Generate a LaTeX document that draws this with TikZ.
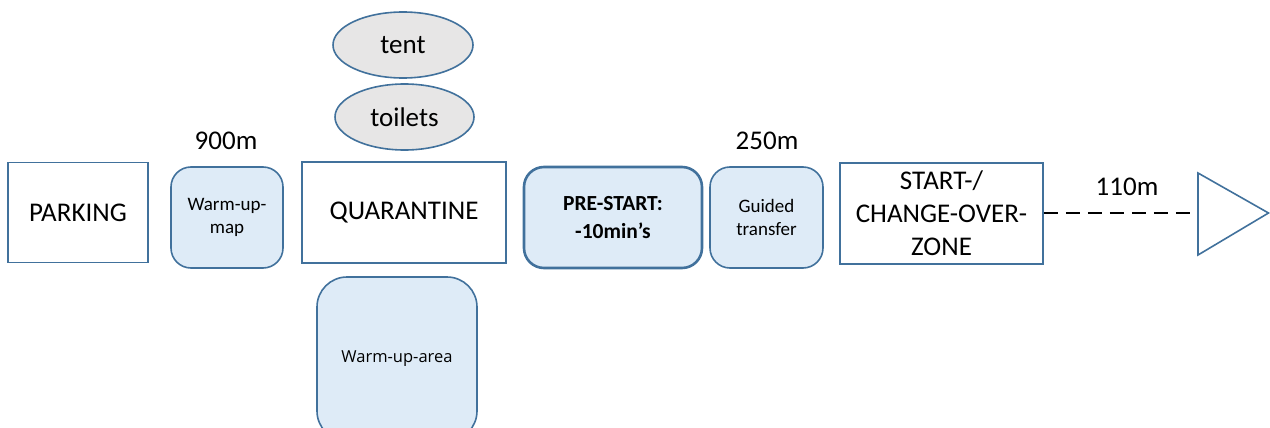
\documentclass[tikz,border=0pt]{standalone}
\usepackage{fontspec}
\setmainfont{Carlito}
\newfontfamily\areafont{Open Sans}
\usetikzlibrary{shapes.geometric}
\definecolor{edge}{HTML}{41719C}
\definecolor{lightblue}{HTML}{DEEBF7}
\definecolor{lightgray}{HTML}{E7E6E6}
\tikzset{
  plainbox/.style={draw=edge,line width=1.6pt,fill=white,rectangle,inner sep=0pt,align=center,font=\fontsize{27}{33}\selectfont},
  softbox/.style={draw=edge,line width=1.6pt,fill=lightblue,rectangle,rounded corners=20pt,inner sep=0pt,align=center,font=\fontsize{19}{23}\selectfont},
  oval/.style={draw=edge,line width=1.6pt,fill=lightgray,ellipse,inner sep=0pt,font=\fontsize{27}{33}\selectfont},
  dist/.style={font=\fontsize{27}{33}\selectfont,inner sep=0pt}
}
\begin{document}
\begin{tikzpicture}[x=1pt,y=-1pt]
\useasboundingbox (0,0) rectangle (1270,428);
\begin{scope}
\clip (0,0) rectangle (1270,428);
\node[plainbox,minimum width=140pt,minimum height=100pt] (parking) at (78,212.5) {PARKING};
\node[softbox,minimum width=112pt,minimum height=101pt] (wmap) at (227,217.5) {Warm-up-\\map};
\node[oval,minimum width=140pt,minimum height=66pt] (tent) at (403,45) {tent};
\node[oval,minimum width=139pt,minimum height=66pt] (toilets) at (404.5,117) {toilets};
\node[plainbox,minimum width=204pt,minimum height=101pt] (quar) at (404,212.5) {QUARANTINE};
\node[softbox,rounded corners=30pt,minimum width=160pt,minimum height=164pt,font=\areafont\fontsize{16.5}{20}\selectfont] (warea) at (397,359) {Warm-up-area};
\node[softbox,line width=2.6pt,minimum width=178pt,minimum height=101pt,font=\bfseries\fontsize{21.5}{28}\selectfont] (pre) at (613,217.5) {PRE-START:\\-10min’s};
\node[softbox,minimum width=113pt,minimum height=101pt] (guided) at (766.5,217.5) {Guided\\transfer};
\node[plainbox,minimum width=203pt,minimum height=101pt,font=\fontsize{27}{33}\selectfont] (start) at (941.5,213.5) {START-/\\CHANGE-OVER-\\ZONE};
\node[dist] (d900) at (226,141) {900m};
\node[dist] (d250) at (767,141) {250m};
\node[dist] (d110) at (1127,187) {110m};
\coordinate (tri) at (1198,213);
\draw[line width=1.8pt,dash pattern=on 14pt off 8pt] (start.east |- tri) -- (tri);
\draw[draw=edge,line width=1.6pt,line join=miter] (1198,173) -- (1268.5,213) -- (1198,255) -- cycle;
\end{scope}
\end{tikzpicture}
\end{document}
